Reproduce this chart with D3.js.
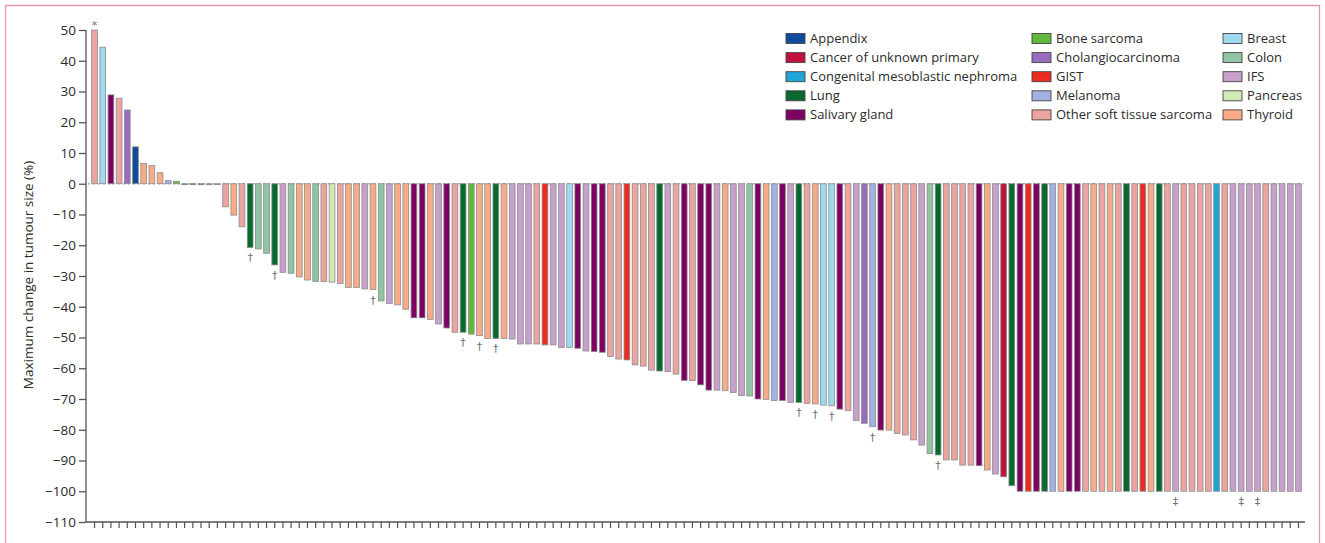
<!DOCTYPE html>
<html>

<head>
    <meta charset="utf-8">
    <script src="https://d3js.org/d3.v7.min.js"></script>
    <style type="text/css">
        body {
            margin: 0;
            background: white;
        }

        text {
            font-family: "Open Sans", sans-serif;
            fill: #2b2b2b;
        }

        .axis text {
            font-size: 13.5px;
        }

        .legend text {
            font-size: 13px;
        }

        .mark {
            font-family: "DejaVu Sans", sans-serif;
            font-size: 11px;
            fill: #707070;
            text-anchor: middle;
        }
    </style>
</head>

<body>
    <div id="chart"></div>

    <script>
        // tumour types, in legend order (3 columns of 5)
        const tumourTypes = ["Appendix", "Cancer of unknown primary", "Congenital mesoblastic nephroma", "Lung", "Salivary gland",
            "Bone sarcoma", "Cholangiocarcinoma", "GIST", "Melanoma", "Other soft tissue sarcoma",
            "Breast", "Colon", "IFS", "Pancreas", "Thyroid"];
        const typeColors = ["#0f4c9c", "#c0103c", "#1fa6d6", "#08692e", "#7e0062",
            "#62b83a", "#9a6cbf", "#ee2a1f", "#a2b2e2", "#eba4a0",
            "#9fd9ef", "#90c5a4", "#c8a0cc", "#d2e9b4", "#f7ab86"];

        // tumour type of each patient (left to right)
        const barTypes = [
            "Other soft tissue sarcoma", "Breast", "Salivary gland", "Other soft tissue sarcoma", "Cholangiocarcinoma",
            "Appendix", "Thyroid", "Thyroid", "Thyroid", "Melanoma",
            "Bone sarcoma", "Lung", "Lung", "Salivary gland", "IFS",
            "Melanoma", "Other soft tissue sarcoma", "Thyroid", "Other soft tissue sarcoma", "Lung",
            "Colon", "Colon", "Lung", "IFS", "Colon",
            "Thyroid", "Thyroid", "Colon", "Other soft tissue sarcoma", "Pancreas",
            "Other soft tissue sarcoma", "Thyroid", "Thyroid", "IFS", "Thyroid",
            "Colon", "IFS", "Thyroid", "Thyroid", "Salivary gland",
            "Salivary gland", "Thyroid", "IFS", "Salivary gland", "Other soft tissue sarcoma",
            "Lung", "Bone sarcoma", "Thyroid", "Thyroid", "Lung",
            "Thyroid", "IFS", "IFS", "IFS", "Other soft tissue sarcoma",
            "GIST", "IFS", "IFS", "Breast", "Salivary gland",
            "IFS", "Salivary gland", "Salivary gland", "Other soft tissue sarcoma", "Other soft tissue sarcoma",
            "GIST", "Other soft tissue sarcoma", "Other soft tissue sarcoma", "Other soft tissue sarcoma", "Lung",
            "IFS", "Other soft tissue sarcoma", "Salivary gland", "Other soft tissue sarcoma", "Salivary gland",
            "Salivary gland", "IFS", "Thyroid", "IFS", "IFS",
            "Colon", "Salivary gland", "Thyroid", "Melanoma", "Salivary gland",
            "IFS", "Lung", "Other soft tissue sarcoma", "Thyroid", "Breast",
            "Breast", "Salivary gland", "Other soft tissue sarcoma", "IFS", "Cholangiocarcinoma",
            "Melanoma", "Salivary gland", "Thyroid", "Other soft tissue sarcoma", "Other soft tissue sarcoma",
            "Other soft tissue sarcoma", "IFS", "Colon", "Lung", "Other soft tissue sarcoma",
            "Other soft tissue sarcoma", "Other soft tissue sarcoma", "Other soft tissue sarcoma", "Salivary gland", "Thyroid",
            "IFS", "Cancer of unknown primary", "Lung", "Salivary gland", "GIST",
            "Salivary gland", "Lung", "Melanoma", "Thyroid", "Salivary gland",
            "Salivary gland", "Other soft tissue sarcoma", "Thyroid", "Other soft tissue sarcoma", "Thyroid",
            "Other soft tissue sarcoma", "Lung", "Other soft tissue sarcoma", "GIST", "Thyroid",
            "Lung", "Other soft tissue sarcoma", "IFS", "Other soft tissue sarcoma", "Other soft tissue sarcoma",
            "Other soft tissue sarcoma", "Other soft tissue sarcoma", "Congenital mesoblastic nephroma", "Other soft tissue sarcoma", "IFS",
            "IFS", "IFS", "IFS", "Other soft tissue sarcoma", "IFS",
            "IFS", "IFS", "IFS"];

        // maximum change in tumour size (%)
        const barValues = [
            50, 44.4, 28.9, 27.8, 24, 12, 6.6, 5.9, 3.6, 1,
            0.8, -0.3, -0.3, -0.3, -0.3, -0.3, -7.5, -10.2, -14, -20.7,
            -21.2, -22.6, -26.4, -28.8, -29.1, -30.3, -31.3, -31.8, -31.8, -32,
            -32.4, -33.7, -33.7, -34.2, -34.4, -38.1, -38.9, -39.4, -40.8, -43.6,
            -43.6, -44.1, -45.6, -46.9, -48.3, -48.3, -48.9, -49.4, -50.3, -50.3,
            -50.3, -50.5, -52.1, -52.1, -52.1, -52.4, -52.4, -53.2, -53.2, -53.5,
            -54.4, -54.6, -54.8, -56.2, -57, -57.3, -58.9, -59.3, -60.6, -60.9,
            -61.1, -61.9, -64, -64, -65.4, -67.1, -67.1, -67.3, -67.9, -68.9,
            -69, -70, -70.1, -70.5, -70.5, -71.1, -71.1, -71.4, -71.6, -72,
            -72.2, -73.3, -73.8, -77, -77.9, -79, -80.1, -80.1, -81.2, -81.7,
            -83.3, -85, -87.7, -88.2, -89.8, -89.8, -91.5, -91.5, -91.7, -93.1,
            -94.4, -95.3, -98.2, -100, -100, -100, -100, -100, -100, -100,
            -100, -100, -100, -100, -100, -100, -100, -100, -100, -100,
            -100, -100, -100, -100, -100, -100, -100, -100, -100, -100,
            -100, -100, -100, -100, -100, -100, -100, -100];

        // footnote symbols: patient number (1-based) -> symbol
        const daggerBars = [20, 23, 35, 46, 48, 50, 87, 89, 91, 96, 104];
        const doubleDaggerBars = [133, 141, 143];
        const asteriskBars = [1];

        const yTicks = d3.range(-110, 51, 10);

        const W = 1325, H = 543;
        const svg = d3.select("#chart")
            .append("svg")
            .attr("width", W)
            .attr("height", H);

        // pink frame
        svg.append("path")
            .attr("d", "M5.5,548 V5.5 H1319.5 V548")
            .attr("fill", "none")
            .attr("stroke", "#e596b2")
            .attr("stroke-width", 1.3);

        const ids = d3.range(1, barValues.length + 1);

        const x = d3.scaleBand()
            .domain(ids)
            .range([88.8, 1304.2])
            .paddingInner(0.3)
            .paddingOuter(0.35);

        const y = d3.scaleLinear()
            .domain([-110, 50])
            .range([522, 30]);

        const color = d3.scaleOrdinal()
            .domain(tumourTypes)
            .range(typeColors);

        // y axis
        svg.append("g")
            .attr("class", "axis")
            .attr("transform", "translate(86,0)")
            .call(d3.axisLeft(y).tickValues(yTicks).tickSize(7).tickPadding(3))
            .call(g => g.selectAll("line, path").attr("stroke", "#555").attr("stroke-width", 1.3))
            .call(g => g.select(".domain").attr("d", `M0,${y(50)}V${y(-110)}`));

        // x axis with one small tick per patient
        svg.append("g")
            .attr("class", "axis")
            .attr("transform", `translate(0,${y(-110)})`)
            .call(d3.axisBottom(x).tickFormat("").tickSize(6).tickSizeOuter(0))
            .call(g => g.selectAll("line").attr("stroke", "#555").attr("stroke-width", 1.2))
            .call(g => g.select(".domain").attr("stroke", "#555").attr("stroke-width", 1.3)
                .attr("d", `M86,0H1305`));

        // zero line
        svg.append("line")
            .attr("x1", 88).attr("x2", 1304)
            .attr("y1", y(0)).attr("y2", y(0))
            .attr("stroke", "#9fbccc")
            .attr("stroke-width", 1.4)
            .attr("stroke-dasharray", "2,3");

        // bars
        svg.append("g")
            .selectAll("rect")
            .data(ids)
            .join("rect")
            .attr("x", d => x(d))
            .attr("width", x.bandwidth())
            .attr("y", d => Math.min(y(0), y(barValues[d - 1])))
            .attr("height", d => Math.max(0.8, Math.abs(y(barValues[d - 1]) - y(0))))
            .attr("fill", d => color(barTypes[d - 1]))
            .attr("stroke", "#8c8c8c")
            .attr("stroke-width", 0.8);

        // footnote symbols
        function addMarks(list, sym) {
            svg.append("g")
                .selectAll("text")
                .data(list)
                .join("text")
                .attr("class", "mark")
                .attr("x", d => x(d) + x.bandwidth() / 2)
                .attr("y", d => barValues[d - 1] >= 0 ? y(barValues[d - 1]) - 1 : y(barValues[d - 1]) + 14)
                .text(sym);
        }
        addMarks(daggerBars, "†");
        addMarks(doubleDaggerBars, "‡");
        addMarks(asteriskBars, "*");

        // y label
        svg.append("text")
            .attr("transform", "translate(33,275) rotate(-90)")
            .attr("text-anchor", "middle")
            .style("font-size", "13.5px")
            .text("Maximum change in tumour size (%)");

        // legend
        const colX = [786, 1032, 1223];
        const legend = svg.append("g")
            .attr("class", "legend")
            .selectAll("g")
            .data(tumourTypes)
            .join("g")
            .attr("transform", (d, i) => `translate(${colX[Math.floor(i / 5)]},${33.5 + (i % 5) * 19.1})`);

        legend.append("rect")
            .attr("width", 19)
            .attr("height", 10)
            .attr("fill", d => color(d))
            .attr("stroke", "#444")
            .attr("stroke-width", 0.9);

        legend.append("text")
            .attr("x", 24)
            .attr("y", 5)
            .attr("dy", "0.35em")
            .text(d => d);
    </script>
</body>

</html>
